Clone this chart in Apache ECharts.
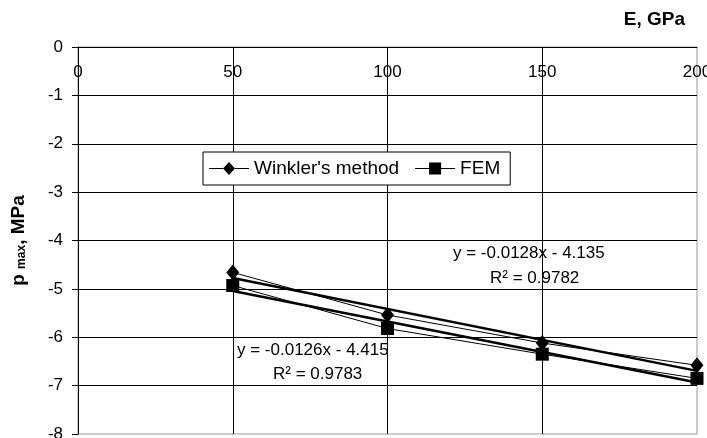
<!DOCTYPE html>
<html>
<head>
<meta charset="utf-8">
<script src="https://cdn.jsdelivr.net/npm/echarts@6/dist/echarts.min.js"></script>
<style>
  html, body { margin: 0; padding: 0; background: #fff; }
  #chart { width: 707px; height: 438px; }
</style>
</head>
<body>
<div id="chart"></div>
<script>
// Elastic modulus E (GPa) against maximum contact pressure p_max (MPa)
const modulusGPa = [50, 100, 150, 200];
const winklerPressure = [-4.66, -5.54, -6.12, -6.58];
const femPressure = [-4.93, -5.82, -6.35, -6.85];

// Linear trendlines: [slope, intercept, R²]
const winklerTrend = [-0.0128, -4.135, 0.9782];
const femTrend = [-0.0126, -4.415, 0.9783];

const pairs = (xs, ys) => xs.map((x, i) => [x, ys[i]]);
const trendPoints = (t) => {
  const x0 = modulusGPa[0], x1 = modulusGPa[modulusGPa.length - 1];
  return [[x0, t[0] * x0 + t[1]], [x1, t[0] * x1 + t[1]]];
};
const eqText = (t) => 'y = ' + t[0] + 'x - ' + Math.abs(t[1]);
const r2Text = (t) => 'R² = ' + t[2];

const FONT = 'Arial, "Liberation Sans", sans-serif';

const chart = echarts.init(document.getElementById('chart'), null, { renderer: 'canvas' });

chart.setOption({
  animation: false,
  backgroundColor: '#fff',
  textStyle: { fontFamily: FONT, color: '#000' },
  grid: {
    left: 78, right: 10, top: 47, bottom: 4,
    containLabel: false,
    outerBoundsMode: 'none',
    show: true, borderColor: '#999', borderWidth: 1, backgroundColor: 'transparent'
  },
  legend: {
    left: 203, top: 152,
    orient: 'horizontal',
    padding: [7, 10, 7, 6],
    itemGap: 16,
    itemWidth: 40, itemHeight: 13,
    backgroundColor: '#fff',
    borderColor: '#000', borderWidth: 1,
    textStyle: { fontFamily: FONT, fontSize: 19, color: '#000' },
    data: [
      { name: "Winkler's method",
        icon: 'path://M0,6h14v1H0z M14,6.5L20,0L26,6.5L20,13z M26,6h14v1H26z',
        itemStyle: { color: '#000' } },
      { name: 'FEM',
        icon: 'path://M0,6h14v1H0z M14,0.5h12v12H14z M26,6h14v1H26z',
        itemStyle: { color: '#000' } }
    ]
  },
  xAxis: {
    type: 'value',
    position: 'top',
    min: 0, max: 200, interval: 50,
    name: 'E, GPa',
    nameLocation: 'end',
    nameGap: 0,
    nameTextStyle: {
      fontFamily: FONT, fontSize: 19, fontWeight: 'bold', color: '#000',
      align: 'right', verticalAlign: 'bottom', padding: [0, 12, 18, 0]
    },
    axisLine: { show: true, onZero: false, lineStyle: { color: '#000', width: 1 } },
    axisTick: { show: false },
    axisLabel: { inside: true, margin: 17, fontSize: 17, color: '#000', fontFamily: FONT },
    splitLine: { show: true, showMaxLine: false, lineStyle: { color: '#000', width: 1 } }
  },
  yAxis: {
    type: 'value',
    min: -8, max: 0, interval: 1,
    name: '{b|p }{s|max}{b|, MPa}',
    nameLocation: 'middle',
    nameRotate: 90,
    nameGap: 50,
    nameTextStyle: {
      rich: {
        b: { fontFamily: FONT, fontSize: 19, fontWeight: 'bold', color: '#000' },
        s: { fontFamily: FONT, fontSize: 12, fontWeight: 'bold', color: '#000',
             verticalAlign: 'bottom', padding: [6, 0, 0, 0] }
      }
    },
    axisLine: { show: true, onZero: false, lineStyle: { color: '#000', width: 1 } },
    axisTick: { show: true, inside: false, length: 6, lineStyle: { color: '#000' } },
    axisLabel: { margin: 15, fontSize: 17, color: '#000', fontFamily: FONT },
    splitLine: { show: true, showMinLine: false, lineStyle: { color: '#000', width: 1 } }
  },
  series: [
    {
      name: "Winkler's method trend",
      type: 'line',
      data: trendPoints(winklerTrend),
      symbol: 'none',
      silent: true,
      lineStyle: { color: '#000', width: 2.5 },
      z: 2
    },
    {
      name: 'FEM trend',
      type: 'line',
      data: trendPoints(femTrend),
      symbol: 'none',
      silent: true,
      lineStyle: { color: '#000', width: 2.5 },
      z: 2
    },
    {
      name: "Winkler's method",
      type: 'line',
      data: pairs(modulusGPa, winklerPressure),
      symbol: 'diamond',
      symbolSize: [13, 16],
      itemStyle: { color: '#000', borderWidth: 0 },
      lineStyle: { color: '#000', width: 1 },
      z: 3
    },
    {
      name: 'FEM',
      type: 'line',
      data: pairs(modulusGPa, femPressure),
      symbol: 'rect',
      symbolSize: 13,
      itemStyle: { color: '#000', borderWidth: 0 },
      lineStyle: { color: '#000', width: 1 },
      z: 4
    }
  ],
  graphic: [
    { type: 'text', left: 453, top: 245,
      style: { text: eqText(winklerTrend), font: '17px ' + FONT, fill: '#000' } },
    { type: 'text', left: 490, top: 270,
      style: { text: r2Text(winklerTrend), font: '17px ' + FONT, fill: '#000' } },
    { type: 'text', left: 237, top: 342,
      style: { text: eqText(femTrend), font: '17px ' + FONT, fill: '#000' } },
    { type: 'text', left: 273, top: 366,
      style: { text: r2Text(femTrend), font: '17px ' + FONT, fill: '#000' } }
  ]
});
</script>
</body>
</html>
